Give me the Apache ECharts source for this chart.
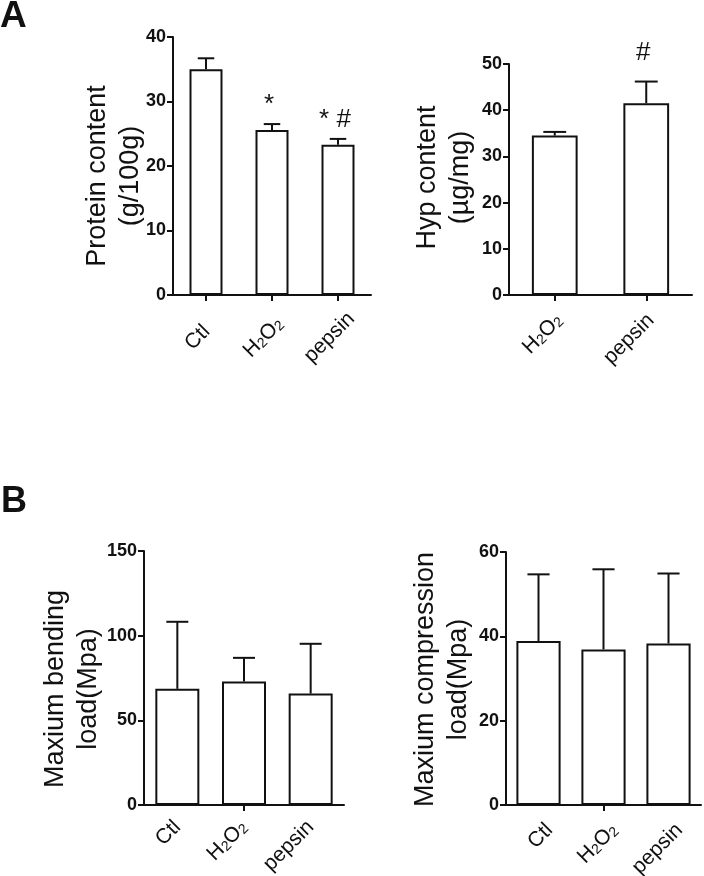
<!DOCTYPE html>
<html>
<head>
<meta charset="utf-8">
<script src="https://cdn.jsdelivr.net/npm/echarts@6/dist/echarts.min.js"></script>
<style>html,body{margin:0;padding:0;background:#fff;}#c{width:704px;height:876px;}</style>
</head>
<body>
<div id="c"></div>
<script>
// ---- data ----
const protCats = ['Ctl', 'H2O2', 'pepsin'];
const protMean = [35.0, 25.6, 23.3];
const protErr = [36.7, 26.5, 24.2];
const protMarks = ['', '*', '* #'];
const protTicks = { min: 0, max: 40, interval: 10 };

const hypCats = ['H2O2', 'pepsin'];
const hypMean = [34.5, 41.5];
const hypErr = [35.3, 46.2];
const hypMarks = ['', '#'];
const hypTicks = { min: 0, max: 50, interval: 10 };

const bendCats = ['Ctl', 'H2O2', 'pepsin'];
const bendMean = [68.6, 72.9, 65.8];
const bendErr = [108.2, 86.9, 95.2];
const bendMarks = ['', '', ''];
const bendTicks = { min: 0, max: 150, interval: 50 };

const compCats = ['Ctl', 'H2O2', 'pepsin'];
const compMean = [38.9, 36.9, 38.3];
const compErr = [54.7, 55.9, 54.9];
const compMarks = ['', '', ''];
const compTicks = { min: 0, max: 60, interval: 20 };

// ---- chart ----
const FONT = 'Liberation Sans, Arial, sans-serif';
const INK = '#111';

const panels = [
  { cats: protCats, mean: protMean, err: protErr, marks: protMarks, ticks: protTicks,
    name: 'Protein content\n(g/100g)', grid: { left: 173, top: 37, width: 198, height: 258 },
    barFrac: 0.5, gap: 26, namePad: [0, 20, 0, 0], onlyMidTick: false, markOff: 6,
    lab: { align: 'center', verticalAlign: 'middle', margin: 34, padding: [0, 24, 0, 0] } },
  { cats: hypCats, mean: hypMean, err: hypErr, marks: hypMarks, ticks: hypTicks,
    name: 'Hyp content\n(µg/mg)', grid: { left: 509, top: 64, width: 183, height: 231 },
    barFrac: 0.5, gap: 32, namePad: [0, 0, 0, 4], onlyMidTick: false, markOff: 16,
    lab: { align: 'right', verticalAlign: 'top', margin: 12, padding: [0, 4, 0, 0] } },
  { cats: bendCats, mean: bendMean, err: bendErr, marks: bendMarks, ticks: bendTicks,
    name: 'Maxium bending\nload(Mpa)', grid: { left: 144, top: 551, width: 200, height: 254 },
    barFrac: 0.66, gap: 39, namePad: [0, 22, 0, 0], onlyMidTick: true, markOff: 6,
    lab: { align: 'right', verticalAlign: 'middle', margin: 19, padding: [0, 0, 0, 0] } },
  { cats: compCats, mean: compMean, err: compErr, marks: compMarks, ticks: compTicks,
    name: 'Maxium compression\nload(Mpa)', grid: { left: 506, top: 552, width: 195, height: 253 },
    barFrac: 0.68, gap: 31, namePad: [0, 2, 0, 0], onlyMidTick: true, markOff: 6,
    lab: { align: 'right', verticalAlign: 'top', margin: 11, padding: [5, 0, 0, 0] } }
];

function catLabel(v) {
  if (v === 'H2O2') return '{n|H}{s|2}{n|O}{s|2}';
  return '{n|' + v + '}';
}

const option = {
  backgroundColor: '#fff',
  animation: false,
  grid: [], xAxis: [], yAxis: [], series: [],
  graphic: [
    { type: 'text', left: 0, top: -2, style: { text: 'A', font: 'bold 37px ' + FONT, fill: INK } },
    { type: 'text', left: 1, top: 484, style: { text: 'B', font: 'bold 36px ' + FONT, fill: INK } }
  ]
};

panels.forEach((p, i) => {
  option.grid.push(Object.assign({ outerBoundsMode: 'none', containLabel: false }, p.grid));
  option.xAxis.push({
    type: 'category', gridIndex: i, data: p.cats, boundaryGap: true,
    axisLine: { show: true, lineStyle: { color: INK, width: 2 } },
    axisTick: {
      show: true, alignWithLabel: true, length: 6, lineStyle: { color: INK, width: 2 },
      interval: p.onlyMidTick ? function (idx) { return idx === 1; } : 0
    },
    axisLabel: {
      rotate: 45, margin: p.lab.margin, interval: 0, color: INK,
      align: p.lab.align, verticalAlign: p.lab.verticalAlign, padding: p.lab.padding,
      formatter: catLabel,
      rich: {
        n: { fontFamily: FONT, fontSize: 21, color: INK },
        s: { fontFamily: FONT, fontSize: 14, color: INK, verticalAlign: 'bottom', padding: [3, 0, 0, 0] }
      }
    },
    splitLine: { show: false }
  });
  option.yAxis.push({
    type: 'value', gridIndex: i, min: p.ticks.min, max: p.ticks.max, interval: p.ticks.interval,
    name: p.name, nameLocation: 'middle', nameGap: p.gap, nameRotate: 90, nameMoveOverlap: false,
    nameTextStyle: { fontFamily: FONT, fontSize: 27, lineHeight: 33, color: INK, padding: p.namePad },
    axisLine: { show: true, lineStyle: { color: INK, width: 2 } },
    axisTick: { show: true, length: 6, lineStyle: { color: INK, width: 2 } },
    axisLabel: { fontFamily: FONT, fontSize: 18, fontWeight: 'bold', color: INK, margin: 7 },
    splitLine: { show: false }
  });
  option.series.push({
    type: 'bar', xAxisIndex: i, yAxisIndex: i, data: p.mean,
    barWidth: (p.barFrac * 100) + '%',
    itemStyle: { color: '#fff', borderColor: INK, borderWidth: 2 },
    z: 2
  });
  const frac = p.barFrac;
  const marks = p.marks;
  const off = p.markOff;
  option.series.push({
    type: 'custom', xAxisIndex: i, yAxisIndex: i, z: 3,
    data: p.cats.map((c, k) => [k, p.mean[k], p.err[k]]),
    encode: { x: 0, y: 1 },
    renderItem: function (params, api) {
      const x = api.value(0), m = api.value(1), e = api.value(2);
      const p0 = api.coord([x, m]);
      const p1 = api.coord([x, e]);
      const bw = api.size([1, 0])[0] * frac;
      const half = bw / 4;
      const children = [
        { type: 'line', shape: { x1: p0[0], y1: p0[1], x2: p1[0], y2: p1[1] }, style: { stroke: INK, lineWidth: 2 } },
        { type: 'line', shape: { x1: p1[0] - half, y1: p1[1], x2: p1[0] + half, y2: p1[1] }, style: { stroke: INK, lineWidth: 2 } }
      ];
      const mk = marks[params.dataIndex];
      if (mk) {
        children.push({ type: 'text', x: p1[0] - 3, y: p1[1] - off,
          style: { text: mk, font: '26px ' + FONT, fill: INK, textAlign: 'center', textVerticalAlign: 'bottom' } });
      }
      return { type: 'group', children: children };
    }
  });
});

const chart = echarts.init(document.getElementById('c'), null, { renderer: 'canvas' });
chart.setOption(option);
</script>
</body>
</html>
